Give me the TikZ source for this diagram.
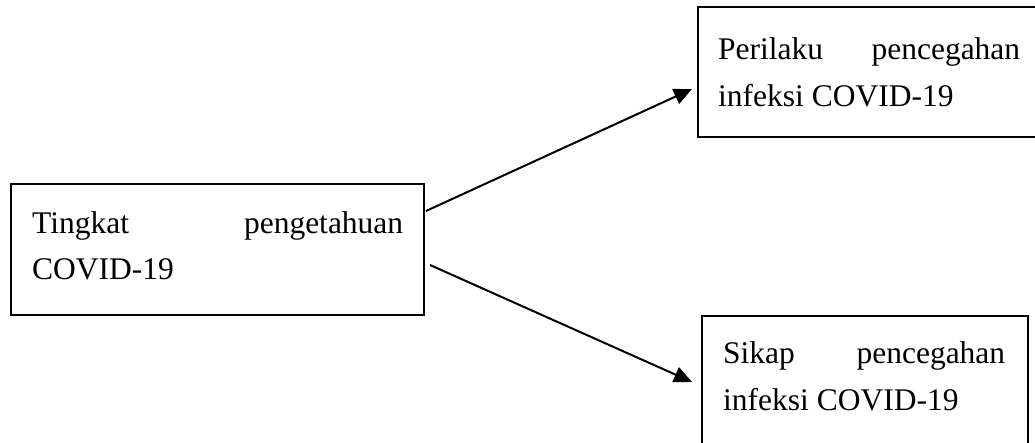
\documentclass[tikz,border=0pt]{standalone}
\usepackage{fontspec}
\setmainfont{Liberation Serif}
\usetikzlibrary{arrows.meta}
\begin{document}
\begin{tikzpicture}[x=1pt,y=-1pt,
  boxnode/.style={draw=black,line width=2pt,rectangle,inner sep=0pt},
  txt/.style={inner sep=0pt,anchor=base west,align=left,font=\fontsize{31.5}{47}\selectfont},
  arr/.style={line width=2pt,-{Triangle[length=18pt,width=16pt]}}]
\useasboundingbox (0,0) rectangle (1035,443);
\begin{scope}
\clip (0,0) rectangle (1035,443);
\node[boxnode,minimum width=413pt,minimum height=131pt] (left) at (217.5,249.5) {};
\node[boxnode,minimum width=347pt,minimum height=130pt] (top) at (871.5,72) {};
\node[boxnode,minimum width=326pt,minimum height=134pt] (bot) at (865,383) {};
\node[txt] (lefttxt) at (32,280) {\hbox to 371pt{Tingkat\hfill pengetahuan}\\\hbox{COVID-19}};
\node[txt] (toptxt) at (718,107) {\hbox to 302pt{Perilaku\hfill pencegahan}\\\hbox{infeksi COVID-19}};
\node[txt] (bottxt) at (723,410.7) {\hbox to 282pt{Sikap\hfill pencegahan}\\\hbox{infeksi COVID-19}};
\draw[arr] ([xshift=1pt,yshift=38.5pt]left.east) -- ([xshift=-5pt,yshift=-17pt]top.west);
\draw[arr] ([xshift=5pt,yshift=-15.5pt]left.east) -- ([xshift=-9pt,yshift=1pt]bot.west);
\end{scope}
\end{tikzpicture}
\end{document}
